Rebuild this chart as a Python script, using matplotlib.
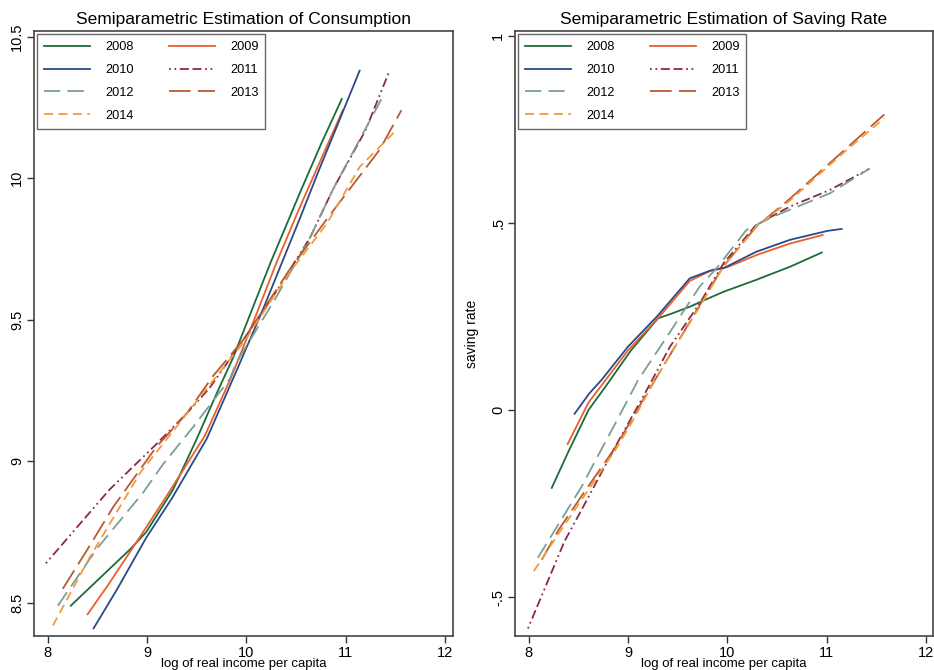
import matplotlib
matplotlib.use("Agg")
import matplotlib.pyplot as plt

plt.rcParams['font.family'] = ['Liberation Sans', 'DejaVu Sans']

years = ["2008", "2009", "2010", "2011", "2012", "2013", "2014"]

# Consumption panel (x = log real income per capita, y = log consumption)
c2008_x = [8.23, 8.50, 8.83, 8.99, 9.26, 9.50, 9.70, 9.87, 10.06, 10.24, 10.54, 10.75, 10.96]
c2008_y = [8.49, 8.58, 8.69, 8.75, 8.90, 9.08, 9.24, 9.37, 9.54, 9.70, 9.95, 10.12, 10.28]
c2009_x = [8.40, 8.60, 8.94, 9.20, 9.58, 9.85, 10.10, 10.30, 10.54, 10.97]
c2009_y = [8.46, 8.56, 8.74, 8.88, 9.09, 9.30, 9.52, 9.70, 9.90, 10.24]
c2010_x = [8.46, 8.70, 8.99, 9.25, 9.60, 9.90, 10.17, 10.54, 10.72, 11.14]
c2010_y = [8.41, 8.55, 8.73, 8.87, 9.08, 9.32, 9.54, 9.86, 10.02, 10.38]
c2011_x = [7.98, 8.30, 8.62, 9.09, 9.40, 9.63, 9.97, 10.30, 10.64, 10.87, 11.20, 11.43]
c2011_y = [8.64, 8.77, 8.90, 9.06, 9.17, 9.26, 9.43, 9.60, 9.79, 9.96, 10.17, 10.37]
c2012_x = [8.10, 8.49, 8.96, 9.16, 9.46, 9.83, 9.90, 10.30, 10.64, 10.87, 11.36]
c2012_y = [8.49, 8.69, 8.89, 8.99, 9.12, 9.29, 9.35, 9.58, 9.79, 9.96, 10.28]
c2013_x = [8.15, 8.40, 8.66, 9.09, 9.40, 9.66, 9.97, 10.44, 10.84, 11.34, 11.56]
c2013_y = [8.55, 8.69, 8.84, 9.05, 9.17, 9.30, 9.43, 9.68, 9.87, 10.10, 10.24]
c2014_x = [8.05, 8.42, 8.93, 9.20, 9.56, 9.97, 10.44, 10.81, 11.14, 11.51]
c2014_y = [8.42, 8.66, 8.96, 9.08, 9.24, 9.42, 9.67, 9.84, 10.04, 10.17]

# Saving rate panel
s2008_x = [8.23, 8.40, 8.60, 8.77, 9.03, 9.30, 9.44, 9.62, 9.77, 9.96, 10.29, 10.63, 10.95]
s2008_y = [-0.208, -0.11, 0.0, 0.062, 0.16, 0.245, 0.258, 0.276, 0.294, 0.316, 0.348, 0.383, 0.421]
s2009_x = [8.39, 8.60, 8.80, 9.00, 9.30, 9.62, 9.85, 10.00, 10.30, 10.63, 10.96]
s2009_y = [-0.091, 0.02, 0.09, 0.16, 0.245, 0.345, 0.375, 0.382, 0.415, 0.445, 0.468]
s2010_x = [8.46, 8.61, 8.73, 9.00, 9.29, 9.62, 9.82, 9.96, 10.29, 10.63, 11.01, 11.15]
s2010_y = [-0.01, 0.045, 0.08, 0.17, 0.25, 0.352, 0.372, 0.379, 0.423, 0.455, 0.479, 0.484]
s2011_x = [7.99, 8.36, 8.53, 8.87, 9.17, 9.42, 9.72, 9.96, 10.29, 10.63, 11.03, 11.43]
s2011_y = [-0.584, -0.35, -0.267, -0.098, 0.045, 0.169, 0.285, 0.392, 0.495, 0.544, 0.588, 0.645]
s2012_x = [8.09, 8.53, 8.70, 8.87, 9.10, 9.39, 9.72, 9.89, 10.19, 10.46, 11.03, 11.43]
s2012_y = [-0.395, -0.205, -0.12, -0.036, 0.08, 0.196, 0.33, 0.379, 0.481, 0.517, 0.579, 0.645]
s2013_x = [8.13, 8.30, 8.53, 8.87, 9.20, 9.45, 9.72, 9.96, 10.29, 10.63, 11.20, 11.58]
s2013_y = [-0.40, -0.32, -0.23, -0.10, 0.05, 0.16, 0.28, 0.385, 0.49, 0.565, 0.70, 0.79]
s2014_x = [8.05, 8.30, 8.53, 8.87, 9.03, 9.27, 9.45, 9.72, 9.96, 10.29, 10.63, 10.86, 11.20, 11.58]
s2014_y = [-0.43, -0.33, -0.24, -0.107, -0.036, 0.08, 0.16, 0.276, 0.383, 0.49, 0.56, 0.615, 0.695, 0.78]

cons = [(c2008_x, c2008_y), (c2009_x, c2009_y), (c2010_x, c2010_y), (c2011_x, c2011_y),
        (c2012_x, c2012_y), (c2013_x, c2013_y), (c2014_x, c2014_y)]
sav = [(s2008_x, s2008_y), (s2009_x, s2009_y), (s2010_x, s2010_y), (s2011_x, s2011_y),
       (s2012_x, s2012_y), (s2013_x, s2013_y), (s2014_x, s2014_y)]

colors = ["#1d6b38", "#e8602c", "#2b4a88", "#8c2a3e", "#7b9f93", "#b95a30", "#f39a3e"]
styles = ["-", "-", "-", (0, (1, 2, 1, 2, 5, 2, 5, 2)), (0, (9, 4)), (0, (12, 4)), (0, (5, 3))]

x_ticks = [8, 9, 10, 11, 12]
c_yticks = [8.5, 9, 9.5, 10, 10.5]
c_ylabels = ["8.5", "9", "9.5", "10", "10.5"]
s_yticks = [-0.5, 0, 0.5, 1]
s_ylabels = ["-.5", "0", ".5", "1"]

fig = plt.figure(figsize=(9.34, 6.7), dpi=100)
axL = fig.add_axes([0.0364, 0.0507, 0.4486, 0.903])
axR = fig.add_axes([0.5514, 0.0507, 0.4475, 0.903])


def style_axes(ax, title, yticks, ylabels, xlim, ylim):
    ax.set_xlim(*xlim)
    ax.set_ylim(*ylim)
    ax.set_xticks(x_ticks)
    ax.set_xticklabels([str(t) for t in x_ticks])
    ax.set_yticks(yticks)
    ax.set_yticklabels(ylabels, rotation=90, va='center')
    ax.tick_params(direction='out', length=5, width=1, colors='#333333', labelsize=10.5,
                   labelcolor='black', pad=2)
    for sp in ax.spines.values():
        sp.set_color('#444444')
        sp.set_linewidth(1.2)
    ax.set_title(title, fontsize=12.5, pad=5)
    ax.set_xlabel("log of real income per capita", fontsize=9.5, labelpad=-1)


def draw(ax, data):
    handles = []
    for (xs, ys), c, ls, yr in zip(data, colors, styles, years):
        h, = ax.plot(xs, ys, color=c, linestyle=ls, linewidth=1.3, label=yr)
        handles.append(h)
    order = [0, 2, 4, 6, 1, 3, 5]
    leg = ax.legend([handles[i] for i in order], [years[i] for i in order], ncol=2,
                    loc='upper left', fontsize=9.2, frameon=True, fancybox=False,
                    handlelength=3.6, handletextpad=1.2, columnspacing=2.7,
                    borderaxespad=0.25, labelspacing=0.85, borderpad=0.55)
    leg.get_frame().set_edgecolor('#444444')
    leg.get_frame().set_linewidth(1.0)


draw(axL, cons)
style_axes(axL, "Semiparametric Estimation of Consumption", c_yticks, c_ylabels,
           (7.86, 12.08), (8.383, 10.52))
draw(axR, sav)
style_axes(axR, "Semiparametric Estimation of Saving Rate", s_yticks, s_ylabels,
           (7.86, 12.07), (-0.604, 1.013))
axR.set_ylabel("saving rate", fontsize=10, labelpad=9)

fig.savefig("out.png", dpi=100)
